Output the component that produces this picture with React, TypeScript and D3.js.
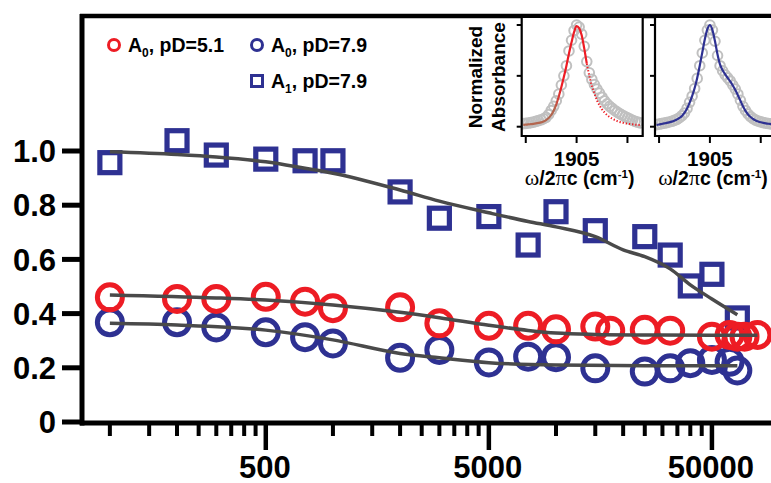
import React from 'react';
import * as d3 from 'd3';

// main panel data (x = delay, y = amplitude)
const a1X = [100, 200, 300, 500, 750, 1000, 2000, 3000, 5000, 7500, 10000, 15000, 25000, 32500, 40000, 50000, 65000];
const a1Y = [0.957, 1.038, 0.985, 0.97, 0.964, 0.964, 0.849, 0.752, 0.758, 0.653, 0.776, 0.706, 0.684, 0.616, 0.502, 0.545, 0.384];

const a0LowX = [100, 200, 300, 500, 750, 1000, 2000, 3000, 5000, 7500, 10000, 15000, 17500, 25000, 32500, 50000, 60000, 65000, 70000, 80000];
const a0LowY = [0.46, 0.454, 0.454, 0.462, 0.444, 0.42, 0.423, 0.364, 0.355, 0.355, 0.342, 0.352, 0.337, 0.34, 0.337, 0.315, 0.321, 0.315, 0.315, 0.321];

const a0HighX = [100, 200, 300, 500, 750, 1000, 2000, 3000, 5000, 7500, 10000, 15000, 25000, 32500, 40000, 50000, 60000, 65000];
const a0HighY = [0.368, 0.368, 0.349, 0.331, 0.313, 0.29, 0.237, 0.266, 0.22, 0.241, 0.239, 0.198, 0.186, 0.198, 0.217, 0.229, 0.222, 0.19];

// fit curves
const fitA1X = [100, 200, 300, 500, 750, 1000, 2000, 3000, 5000, 7500, 10000, 15000, 20000, 25000, 32500, 40000, 50000, 65000];
const fitA1Y = [0.997, 0.987, 0.978, 0.96, 0.936, 0.918, 0.856, 0.815, 0.772, 0.74, 0.72, 0.684, 0.635, 0.61, 0.565, 0.506, 0.454, 0.396];
const fitLowX = [100, 300, 500, 1000, 2000, 3000, 5000, 7500, 10000, 15000, 25000, 50000, 80000];
const fitLowY = [0.469, 0.458, 0.45, 0.432, 0.405, 0.385, 0.357, 0.338, 0.328, 0.323, 0.321, 0.32, 0.32];
const fitHighX = [100, 200, 500, 1000, 2000, 3000, 5000, 10000, 25000, 65000];
const fitHighY = [0.364, 0.358, 0.339, 0.303, 0.253, 0.237, 0.219, 0.21, 0.208, 0.208];

const yTicks = [0, 0.2, 0.4, 0.6, 0.8, 1.0];
const yTickLabels = ['0', '0.2', '0.4', '0.6', '0.8', '1.0'];
const xMajor = [500, 5000, 50000];
const xMajorLabels = ['500', '5000', '50000'];
const xMinor = [100, 150, 200, 250, 300, 350, 400, 450, 1000, 1500, 2000, 2500, 3000, 3500, 4000, 4500,
  10000, 15000, 20000, 25000, 30000, 35000, 40000, 45000];

// insets: wavenumber grid and normalized spectra
const insetWn = [1899.75, 1900, 1900.25, 1900.5, 1900.75, 1901, 1901.25, 1901.5, 1901.75, 1902, 1902.25, 1902.5,
  1902.75, 1903, 1903.25, 1903.5, 1903.75, 1904, 1904.25, 1904.5, 1904.75, 1905, 1905.25, 1905.5, 1905.75, 1906,
  1906.25, 1906.5, 1906.75, 1907, 1907.25, 1907.5, 1907.75, 1908, 1908.25, 1908.5, 1908.75, 1909, 1909.25, 1909.5,
  1909.75, 1910, 1910.25, 1910.5, 1910.75, 1911, 1911.25];
const spec51 = [0.03, 0.033, 0.036, 0.04, 0.045, 0.052, 0.06, 0.068, 0.078, 0.092, 0.12, 0.16, 0.2, 0.255, 0.32, 0.41,
  0.5, 0.6, 0.745, 0.85, 0.945, 1.0, 0.98, 0.91, 0.79, 0.64, 0.53, 0.465, 0.415, 0.37, 0.33, 0.29, 0.255, 0.225, 0.2,
  0.18, 0.16, 0.143, 0.128, 0.113, 0.1, 0.088, 0.075, 0.063, 0.052, 0.045, 0.038];
const fit51 = [0.018, 0.02, 0.022, 0.025, 0.028, 0.032, 0.037, 0.043, 0.052, 0.065, 0.085, 0.115, 0.16, 0.22, 0.3, 0.39,
  0.49, 0.6, 0.72, 0.83, 0.93, 0.99, 0.97, 0.9, 0.77, 0.62, 0.5, 0.4, 0.33, 0.26, 0.21, 0.17, 0.14, 0.115, 0.095, 0.08,
  0.066, 0.055, 0.046, 0.04, 0.034, 0.03, 0.026, 0.023, 0.02, 0.018, 0.016];
const spec79 = [0.02, 0.025, 0.03, 0.035, 0.04, 0.046, 0.053, 0.062, 0.072, 0.088, 0.108, 0.135, 0.18, 0.24, 0.3, 0.375,
  0.475, 0.6, 0.725, 0.85, 0.95, 1.0, 0.95, 0.84, 0.7, 0.6, 0.55, 0.51, 0.48, 0.45, 0.41, 0.37, 0.32, 0.26, 0.2, 0.16,
  0.125, 0.1, 0.08, 0.065, 0.055, 0.047, 0.04, 0.035, 0.031, 0.028, 0.025];
const fit79 = [0.018, 0.022, 0.027, 0.032, 0.037, 0.043, 0.05, 0.059, 0.07, 0.086, 0.106, 0.135, 0.178, 0.235, 0.3, 0.38,
  0.48, 0.6, 0.73, 0.86, 0.96, 1.0, 0.95, 0.84, 0.71, 0.61, 0.555, 0.515, 0.48, 0.445, 0.405, 0.36, 0.31, 0.255, 0.2,
  0.155, 0.12, 0.095, 0.076, 0.062, 0.052, 0.044, 0.038, 0.033, 0.029, 0.026, 0.023];
const insetTicks = [1900, 1905, 1910];

const RED = '#ed1c24';
const NAVY = '#2e3192';
const FIT = '#4a4a4a';
const FONT = '"Liberation Sans", Arial, Helvetica, sans-serif';
const SERIF = '"Liberation Serif", "DejaVu Serif", serif';

const x = d3.scaleLog().domain([75, 92000]).range([82, 771]);
const y = d3.scaleLinear().domain([0, 1]).range([422, 151]);

const fitLine = (xs: number[], ys: number[]) =>
  d3.line<number>().x((_, i) => x(xs[i])).y((_, i) => y(ys[i])).curve(d3.curveMonotoneX)(ys) || '';

const Inset = ({ left, gray, fit, color, split, id }: any) => {
  const ix = d3.scaleLinear().domain([1899.6, 1911.5]).range([left, left + 121]);
  const iy = d3.scaleLinear().domain([0, 1]).range([126.7, 25]);
  const top = 16, bottom = 136;
  const idx = insetWn.map((_, i) => i);
  const line = d3.line<number>().x(i => ix(insetWn[i])).y(i => iy(fit[i])).curve(d3.curveMonotoneX);
  const solid = split == null ? idx : idx.filter(i => i <= split);
  const dotted = split == null ? [] : idx.filter(i => i >= split);
  return (
    <g>
      <defs>
        <clipPath id={`clip-${id}`}>
          <rect x={left} y={top} width={121} height={bottom - top} />
        </clipPath>
        <linearGradient id={`grad-${id}`} gradientUnits="userSpaceOnUse" x1={left} x2={left + 121} y1={0} y2={0}>
          <stop offset="0" stopColor={split == null ? color : '#b3664f'} />
          <stop offset="0.27" stopColor={split == null ? color : '#b3664f'} />
          <stop offset="0.33" stopColor={color} />
          <stop offset="1" stopColor={color} />
        </linearGradient>
      </defs>
      <g clipPath={`url(#clip-${id})`}>
        {gray.map((v: number, i: number) => (
          <circle key={i} cx={ix(insetWn[i])} cy={iy(v)} r={4.8} fill="none" stroke="#c0c0c0" strokeWidth={2} />
        ))}
        <path d={line(solid) || ''} fill="none" stroke={`url(#grad-${id})`} strokeWidth={2.2} />
        {dotted.length > 0 && (
          <path d={line(dotted) || ''} fill="none" stroke={color} strokeWidth={2} strokeDasharray="1.3,1.9" />
        )}
      </g>
      <path d={`M${left},${top}V${bottom}H${left + 121}V${top}`} fill="none" stroke="#000" strokeWidth={2.2} />
      {[0, 0.5, 1].map(t => (
        <line key={t} x1={left - 5} x2={left} y1={iy(t)} y2={iy(t)} stroke="#000" strokeWidth={2} />
      ))}
      {insetTicks.map(t => (
        <line key={t} x1={ix(t)} x2={ix(t)} y1={bottom} y2={bottom + 7} stroke="#000" strokeWidth={2} />
      ))}
      <text x={ix(1905)} y={166} textAnchor="middle" fontFamily={FONT} fontWeight="bold" fontSize={20.5}>1905</text>
      <text x={ix(1905) + 3} y={185} textAnchor="middle" fontFamily={FONT} fontWeight="bold" fontSize={19.5}>
        <tspan fontFamily={SERIF} fontWeight="normal" fontSize={22}>ω</tspan>/2
        <tspan fontFamily={SERIF} fontWeight="normal" fontSize={22}>π</tspan>c (cm
        <tspan dy={-7} fontSize={11.5}>-1</tspan>
        <tspan dy={7}>)</tspan>
      </text>
    </g>
  );
};

const Circles = ({ xs, ys, color }: any) => (
  <g>
    {ys.map((v: number, i: number) => (
      <circle key={i} cx={x(xs[i])} cy={y(v)} r={12.5} fill="none" stroke={color} strokeWidth={5} />
    ))}
  </g>
);

export default function App() {
  return (
    <svg width={771} height={483} style={{ position: 'absolute', left: 0, top: 0, background: '#fff' }}>
      <rect width={771} height={483} fill="#fff" />

      {/* markers */}
      <g>
        {a1Y.map((v, i) => (
          <rect key={i} x={x(a1X[i]) - 10} y={y(v) - 10} width={20} height={20} fill="none" stroke={NAVY} strokeWidth={5.2} />
        ))}
      </g>
      <Circles xs={a0HighX} ys={a0HighY} color={NAVY} />
      <Circles xs={a0LowX} ys={a0LowY} color={RED} />

      {/* fits */}
      <path d={fitLine(fitA1X, fitA1Y)} fill="none" stroke={FIT} strokeWidth={3.5} />
      <path d={fitLine(fitLowX, fitLowY)} fill="none" stroke={FIT} strokeWidth={3.5} />
      <path d={fitLine(fitHighX, fitHighY)} fill="none" stroke={FIT} strokeWidth={3.5} />

      {/* axes frame */}
      <line x1={80} x2={771} y1={16} y2={16} stroke="#000" strokeWidth={4.5} />
      <line x1={82} x2={82} y1={14} y2={425.5} stroke="#000" strokeWidth={5} />
      <line x1={80} x2={771} y1={423} y2={423} stroke="#000" strokeWidth={5} />

      {yTicks.map((t, i) => (
        <g key={t}>
          <line x1={62} x2={82} y1={y(t)} y2={y(t)} stroke="#000" strokeWidth={5} />
          <text x={56} y={y(t)} dy="0.36em" textAnchor="end" fontFamily={FONT} fontWeight="bold" fontSize={31}>
            {yTickLabels[i]}
          </text>
        </g>
      ))}
      {xMinor.map(t => (
        <line key={t} x1={x(t)} x2={x(t)} y1={423} y2={436} stroke="#000" strokeWidth={4} />
      ))}
      {xMajor.map((t, i) => (
        <g key={t}>
          <line x1={x(t)} x2={x(t)} y1={423} y2={450} stroke="#000" strokeWidth={4.5} />
          <text x={x(t) - 1} y={478} textAnchor="middle" fontFamily={FONT} fontWeight="bold" fontSize={31}>
            {xMajorLabels[i]}
          </text>
        </g>
      ))}

      {/* legend */}
      <g fontFamily={FONT} fontWeight="bold" fontSize={19.5}>
        <circle cx={114} cy={45} r={5.5} fill="none" stroke={RED} strokeWidth={3} />
        <text x={128} y={52}>A<tspan dy={5} fontSize={12}>0</tspan><tspan dy={-5}>, pD=5.1</tspan></text>
        <circle cx={257} cy={45} r={5.5} fill="none" stroke={NAVY} strokeWidth={3} />
        <text x={271} y={52}>A<tspan dy={5} fontSize={12}>0</tspan><tspan dy={-5}>, pD=7.9</tspan></text>
        <rect x={251.5} y={75.5} width={11} height={11} fill="none" stroke={NAVY} strokeWidth={3} />
        <text x={271} y={88}>A<tspan dy={5} fontSize={12}>1</tspan><tspan dy={-5}>, pD=7.9</tspan></text>
      </g>

      {/* insets */}
      <rect x={521.7} y={18} width={121} height={118} fill="#fff" />
      <rect x={655} y={18} width={121} height={118} fill="#fff" />
      <Inset left={521.7} gray={spec51} fit={fit51} color={RED} split={25} id="a" />
      <Inset left={655} gray={spec79} fit={fit79} color={NAVY} split={null} id="b" />
      <g fontFamily={FONT} fontWeight="bold" fontSize={19}>
        <text transform="translate(482,77) rotate(-90)" textAnchor="middle">Normalized</text>
        <text transform="translate(505,77) rotate(-90)" textAnchor="middle">Absorbance</text>
      </g>
    </svg>
  );
}
